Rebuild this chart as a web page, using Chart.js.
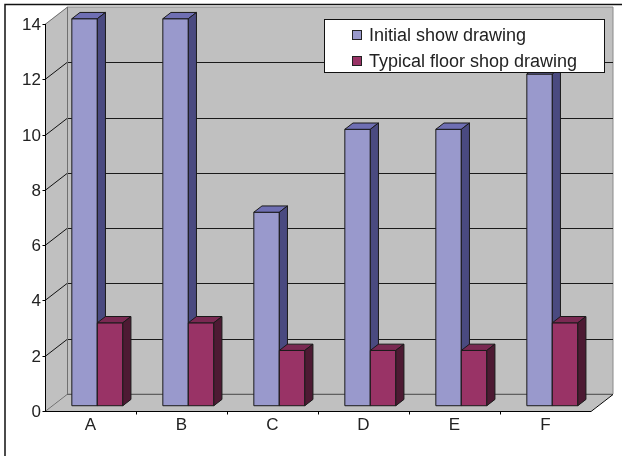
<!DOCTYPE html>
<html>
<head>
<meta charset="utf-8">
<script src="https://cdn.jsdelivr.net/npm/chart.js@4.4.0/dist/chart.umd.min.js"></script>
<style>
  html, body { margin: 0; padding: 0; background: #fff; }
</style>
</head>
<body>
<canvas id="chart" width="622" height="456"></canvas>
<script>
const categories = ["A", "B", "C", "D", "E", "F"];
const initialShow = [14, 14, 7, 10, 10, 12];
const typicalFloor = [3, 3, 2, 2, 2, 3];
const seriesNames = ["Initial show drawing", "Typical floor shop drawing"];
const yTicks = [0, 2, 4, 6, 8, 10, 12, 14];

const faceColors = ["#9999cc", "#993366"];
const topColors = ["#6f6fb3", "#7a2952"];
const sideColors = ["#4a4a80", "#4d1a33"];

// depth of the walls and where the bars sit inside it
const DX = 22;
const DY = -17;
const FACE = 0.31;
const BAR_D = 0.37;
const FONT = "17px 'Liberation Sans', Arial, sans-serif";

const poly = (ctx, pts, fill, stroke) => {
  ctx.beginPath();
  ctx.moveTo(pts[0][0], pts[0][1]);
  for (let i = 1; i < pts.length; i++) ctx.lineTo(pts[i][0], pts[i][1]);
  ctx.closePath();
  if (fill) {
    ctx.fillStyle = fill;
    ctx.fill();
  }
  if (stroke) {
    ctx.strokeStyle = stroke;
    ctx.stroke();
  }
};

const line = (ctx, x1, y1, x2, y2, color) => {
  ctx.strokeStyle = color;
  ctx.beginPath();
  ctx.moveTo(x1, y1);
  ctx.lineTo(x2, y2);
  ctx.stroke();
};

const depthPlugin = {
  id: "depth3d",
  beforeDraw(chart) {
    const ctx = chart.ctx;
    const { left, right, top, bottom } = chart.chartArea;
    const yScale = chart.scales.y;
    const xScale = chart.scales.x;
    ctx.save();
    ctx.fillStyle = "#fff";
    ctx.fillRect(0, 0, chart.width, chart.height);

    // outer frame (only left and top visible)
    ctx.lineWidth = 1.5;
    ctx.strokeStyle = "#111";
    ctx.beginPath();
    ctx.moveTo(5, chart.height);
    ctx.lineTo(5, 4.5);
    ctx.lineTo(chart.width, 4.5);
    ctx.stroke();

    ctx.lineWidth = 1;
    // back wall, side wall, floor
    poly(ctx, [[left + DX, top + DY], [right + DX, top + DY], [right + DX, bottom + DY], [left + DX, bottom + DY]], "#c0c0c0", "#8a8a8a");
    poly(ctx, [[left, top], [left + DX, top + DY], [left + DX, bottom + DY], [left, bottom]], "#c0c0c0", null);
    poly(ctx, [[left, bottom], [right, bottom], [right + DX, bottom + DY], [left + DX, bottom + DY]], "#c0c0c0", null);

    // grid lines on back and side wall
    yTicks.forEach((v) => {
      const py = Math.round(yScale.getPixelForValue(v)) + 0.5;
      const inner = v !== 0 && v !== yTicks[yTicks.length - 1];
      if (inner) line(ctx, left + DX, py + DY, right + DX, py + DY, "#1a1a1a");
      line(ctx, left, py, left + DX, py + DY, inner ? "#111" : "#707070");
    });
    line(ctx, left + DX + 0.5, top + DY, left + DX + 0.5, bottom + DY, "#707070");
    line(ctx, left + DX, bottom + DY + 0.5, right + DX, bottom + DY + 0.5, "#606060");

    // y axis
    const ax = left + 0.5;
    line(ctx, ax, top, ax, bottom, "#000");
    ctx.font = FONT;
    ctx.fillStyle = "#222";
    ctx.textAlign = "right";
    ctx.textBaseline = "middle";
    yTicks.forEach((v) => {
      const py = Math.round(yScale.getPixelForValue(v)) + 0.5;
      line(ctx, ax - 3, py, ax, py, "#000");
      ctx.fillText(String(v), left - 4, py + 1);
    });

    // x axis
    const by = Math.round(bottom) + 0.5;
    line(ctx, left, by, right, by, "#000");
    line(ctx, right, by, right + DX, by + DY, "#000");
    ctx.textAlign = "center";
    categories.forEach((c, i) => {
      const cx = xScale.getPixelForValue(i);
      const half = (right - left) / categories.length / 2;
      if (i > 0) {
        const tx = Math.round(cx - half) + 0.5;
        line(ctx, tx, by, tx, by + 3, "#000");
      }
      ctx.fillText(c, cx, by + 14);
    });
    ctx.restore();
  },
  beforeDatasetsDraw(chart) {
    const ctx = chart.ctx;
    const fx = DX * FACE;
    const fy = DY * FACE;
    const bx = DX * BAR_D;
    const byy = DY * BAR_D;
    ctx.save();
    ctx.lineWidth = 1;
    ctx.lineJoin = "round";
    categories.forEach((c, idx) => {
      chart.data.datasets.forEach((ds, di) => {
        const el = chart.getDatasetMeta(di).data[idx];
        const p = el.getProps(["x", "y", "base", "width"], true);
        const l = p.x - p.width / 2 + fx;
        const r = p.x + p.width / 2 + fx;
        const t = p.y + fy;
        const b = p.base + fy;
        poly(ctx, [[l, t], [r, t], [r, b], [l, b]], faceColors[di], "#1a1a1a");
        poly(ctx, [[l, t], [l + bx, t + byy], [r + bx, t + byy], [r, t]], topColors[di], "#1a1a1a");
        poly(ctx, [[r, t], [r + bx, t + byy], [r + bx, b + byy], [r, b]], sideColors[di], "#1a1a1a");
      });
    });
    ctx.restore();
    return false;
  },
  afterDraw(chart) {
    const ctx = chart.ctx;
    ctx.save();
    ctx.lineWidth = 1;
    ctx.fillStyle = "#fff";
    ctx.fillRect(324, 19, 280, 53);
    ctx.strokeStyle = "#111";
    ctx.strokeRect(324.5, 19.5, 280, 53);
    ctx.font = "18px 'Liberation Sans', Arial, sans-serif";
    ctx.textAlign = "left";
    ctx.textBaseline = "middle";
    chart.data.datasets.forEach((ds, i) => {
      const cy = 35 + i * 26;
      ctx.fillStyle = faceColors[i];
      ctx.fillRect(353, cy - 4, 8, 8);
      ctx.strokeStyle = "#222";
      ctx.strokeRect(352.5, cy - 4.5, 9, 9);
      ctx.fillStyle = "#222";
      ctx.fillText(ds.label, 369, cy + 1);
    });
    ctx.restore();
  },
};

new Chart(document.getElementById("chart"), {
  type: "bar",
  data: {
    labels: categories,
    datasets: [
      { label: seriesNames[0], data: initialShow, backgroundColor: faceColors[0] },
      { label: seriesNames[1], data: typicalFloor, backgroundColor: faceColors[1] },
    ],
  },
  options: {
    responsive: false,
    animation: false,
    devicePixelRatio: 1,
    layout: { padding: { left: 45, top: 24, right: 31, bottom: 45 } },
    datasets: { bar: { categoryPercentage: 0.56, barPercentage: 1 } },
    plugins: { legend: { display: false }, tooltip: { enabled: false } },
    scales: {
      x: { display: false },
      y: { display: false, min: 0, max: 14 },
    },
  },
  plugins: [depthPlugin],
});
</script>
</body>
</html>
